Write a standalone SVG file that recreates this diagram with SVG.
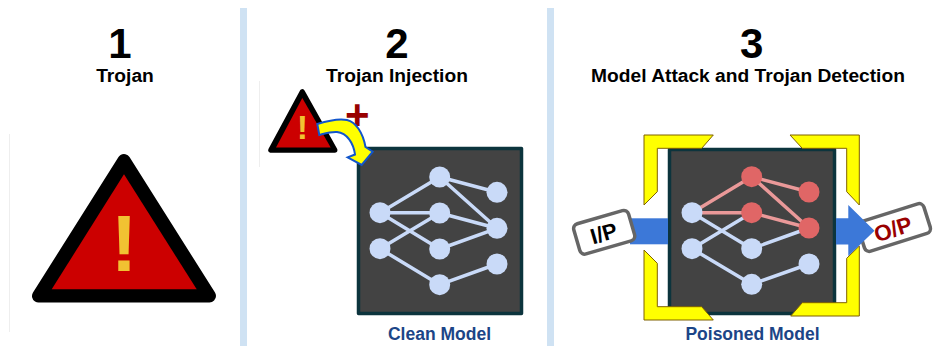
<svg xmlns="http://www.w3.org/2000/svg" width="937" height="346" viewBox="0 0 937 346">
<style>
text{font-family:"Liberation Sans",Arial,sans-serif;font-weight:700;text-anchor:middle}
.num{font-size:42px;fill:#000}
.ttl{font-size:19.2px;fill:#000}
.cap{font-size:17.5px;fill:#1c4587}
.sep{fill:#cfe2f3}
.faint{stroke:#eeeeee;stroke-width:1;fill:none}
.box{fill:#434343;stroke:#0c343d;stroke-width:3.5;stroke-linejoin:round}
.n{fill:#c9daf8}
.r{fill:#e06666}
.e{stroke:#c9daf8;stroke-width:3.5;fill:none}
.er{stroke:#ea9999;stroke-width:3.5;fill:none}
.blk{fill:#000;stroke:#000;stroke-linejoin:round}
.red{fill:#cc0000}
.ex{fill:#f1c232}
.br{fill:#ffff00;stroke:#7f6000;stroke-width:1}
.flow{fill:#3c78d8}
.tag{fill:#fff;stroke:#666666;stroke-width:3.5}
</style>
<rect width="937" height="346" fill="#fff"/>
<rect class="sep" x="240" y="8" width="7" height="338"/>
<rect class="sep" x="547" y="8" width="7" height="338"/>
<path class="faint" d="M9.5 134V332M259.5 81V167"/>

<g id="step1">
<text class="num" x="120" y="57.7">1</text>
<text class="ttl" x="125" y="81.5">Trojan</text>
<polygon class="blk" stroke-width="13" points="38.5,296 209.5,296 124,160.5"/>
<polygon class="red" points="51.7,289.3 196.7,289.3 124,174.3"/>
<text class="ex" x="124" y="270.7" font-size="80">!</text>
</g>

<g id="step2">
<text class="num" x="397" y="57.7">2</text>
<text class="ttl" x="397" y="81.5">Trojan Injection</text>
<polygon class="blk" stroke-width="5.5" points="271,150 334.7,150 302.3,92"/>
<polygon class="red" points="276,147.5 330.7,147.5 302.3,98"/>
<text class="ex" x="302.3" y="139.3" font-size="34">!</text>
<text x="357.3" y="128.5" font-size="42" fill="#990000">+</text>
</g>

<g id="clean-model">
<rect class="box" x="358.5" y="148.5" width="163" height="165"/>
</g>

<g id="poisoned-box">
<rect class="box" x="669.5" y="149.5" width="165" height="164"/>
</g>

<g id="connectors">
<path class="e" d="M380 212.7L439.7 177M380 212.7H439.7M380 212.7L439.7 249M380 248.7L439.7 213M380 248.7L439.7 284.7M439.7 177L497 192.3M439.7 177L497 228.3M439.7 213L497 228.3M439.7 249L497 228.3M439.7 284.7L497 264"/>
<path class="e" d="M692 212.7L751.7 248.7M692 248.7L751.7 212.7M692 248.7L751.7 284.3M751.7 248.7L809 228M751.7 284.3L809 264"/>
<path class="er" d="M692 212.7L751.7 176.7M692 212.7H751.7M751.7 176.7L809 192M751.7 176.7L809 228M751.7 212.7L809 228"/>
</g>

<g id="clean-nodes">
<circle class="n" cx="380" cy="212.7" r="10.5"/>
<circle class="n" cx="380" cy="248.7" r="10.5"/>
<circle class="n" cx="439.7" cy="177" r="10.5"/>
<circle class="n" cx="439.7" cy="213" r="10.5"/>
<circle class="n" cx="439.7" cy="249" r="10.5"/>
<circle class="n" cx="439.7" cy="284.7" r="10.5"/>
<circle class="n" cx="497" cy="192.3" r="10.5"/>
<circle class="n" cx="497" cy="228.3" r="10.5"/>
<circle class="n" cx="497" cy="264" r="10.5"/>
</g>

<g id="poisoned-nodes">
<circle class="n" cx="692" cy="212.7" r="10.5"/>
<circle class="n" cx="692" cy="248.7" r="10.5"/>
<circle class="r" cx="751.7" cy="176.7" r="10.5"/>
<circle class="r" cx="751.7" cy="212.7" r="10.5"/>
<circle class="n" cx="751.7" cy="248.7" r="10.5"/>
<circle class="n" cx="751.7" cy="284.3" r="10.5"/>
<circle class="r" cx="809" cy="192" r="10.5"/>
<circle class="r" cx="809" cy="228" r="10.5"/>
<circle class="n" cx="809" cy="264" r="10.5"/>
</g>

<g id="injection-arrow">
<path d="M317.3 124C330 120 340 118.5 347 120C356 122 363 133 365.5 147L372.7 151.7L361.7 165L347.7 157.3L355 154.5C353.5 143 347 133 337 132C331 131.5 325 133.5 319.3 135Z" fill="#ffff00" stroke="#1155cc" stroke-width="2"/>
</g>

<g id="step3">
<text class="num" x="751.7" y="57.7">3</text>
<text class="ttl" x="748" y="81.5">Model Attack and Trojan Detection</text>
</g>

<g id="detectors">
<polygon class="br" points="644,135 713.3,135 701.7,148.3 657.3,148.3 657.3,191.7 644,205"/>
<polygon class="br" points="790,135 859.3,135 859.3,205 846.7,191.7 846.7,148.3 802.3,148.3"/>
<polygon class="br" points="644,250 657.3,263.3 657.3,306.7 701.7,306.7 713.3,320 644,320"/>
<polygon class="br" points="859.3,246 859.3,316 790.7,316 802.3,302.7 846.7,302.7 846.7,258.3"/>
</g>

<g id="input">
<rect class="flow" x="630" y="218.3" width="38" height="26"/>
<rect class="tag" x="-28.5" y="-15.7" width="57" height="31.4" rx="5" transform="translate(604.2 232.3) rotate(-16.2)"/>
<text x="0" y="8" font-size="22" fill="#000" transform="translate(603.7 233) rotate(-16.2)">I/P</text>
</g>

<g id="output">
<rect class="tag" x="-34.5" y="-15.5" width="69" height="31" rx="5" transform="translate(894.2 227.5) rotate(-17.5)"/>
<text x="0" y="8" font-size="22.5" fill="#990000" transform="translate(893 229) rotate(-17.5)">O/P</text>
<polygon class="flow" points="836,218.3 848.3,218.3 848.3,205 874.5,230.7 848.3,256 848.3,244.5 836,244.5"/>
</g>

<text class="cap" x="439.5" y="339.7">Clean Model</text>
<text class="cap" x="752.5" y="339.7">Poisoned Model</text>
</svg>
